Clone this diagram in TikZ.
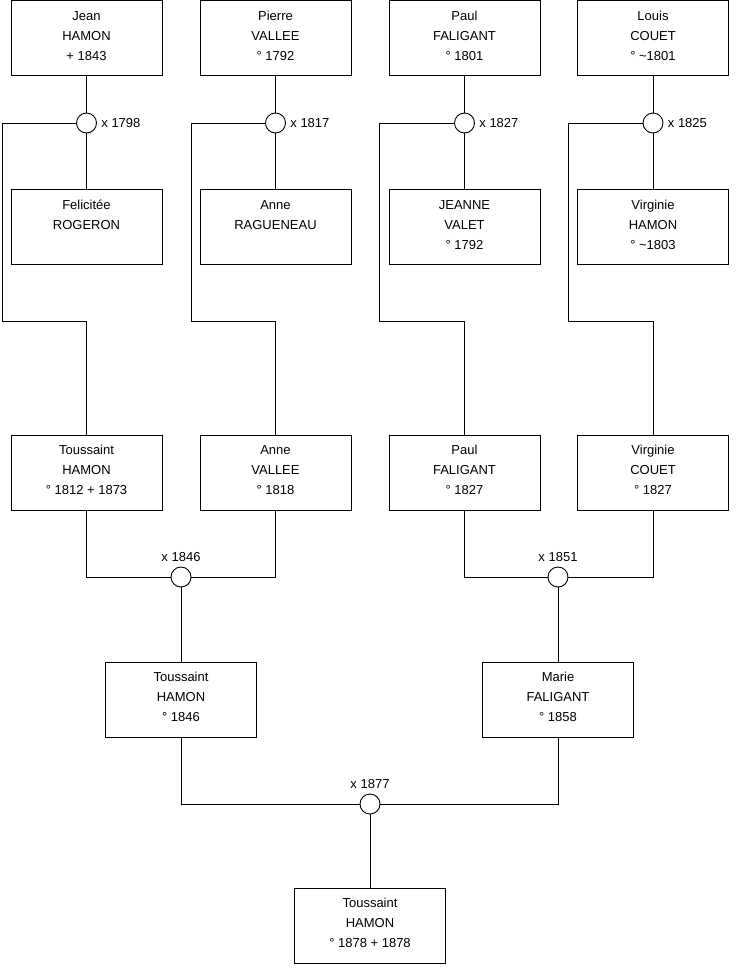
\documentclass[tikz,border=0pt]{standalone}
\usepackage{fontspec}
\setmainfont{Liberation Sans}
\usepackage{tikz}

% a person card: box of fixed size, text hung from the top
\newcommand{\card}[1]{\parbox[c][75pt][t]{151pt}{\centering\rule{0pt}{19.5pt}#1\par}}

\begin{document}
\begin{tikzpicture}[x=1pt, y=-1pt, line width=0.9pt,
  every node/.style={font=\fontsize{13}{20}\selectfont},
  person/.style={draw, rectangle, inner sep=0pt},
  wedding/.style={draw, circle, fill=white, minimum size=20pt, inner sep=0pt},
  datelbl/.style={inner sep=0pt}]
  \useasboundingbox (0,0) rectangle (740,975);
  % first generation
  \node[person] (jean)    at (86.5,38)  {\card{Jean\\HAMON\\+ 1843}};
  \node[person] (pierre)  at (275.5,38) {\card{Pierre\\VALLEE\\° 1792}};
  \node[person] (paulA)   at (464.5,38) {\card{Paul\\FALIGANT\\° 1801}};
  \node[person] (louis)   at (653,38)   {\card{Louis\\COUET\\° \textasciitilde1801}};
  \node[person] (felicitee) at (86.5,227)  {\card{Felicitée\\ROGERON}};
  \node[person] (anneR)     at (275.5,227) {\card{Anne\\RAGUENEAU}};
  \node[person] (jeanne)    at (464.5,227) {\card{JEANNE\\VALET\\° 1792}};
  \node[person] (virginieH) at (653,227)   {\card{Virginie\\HAMON\\° \textasciitilde1803}};
  % their weddings
  \node[wedding] (m1798) at (86.5,123)  {};
  \node[wedding] (m1817) at (275.5,123) {};
  \node[wedding] (m1827) at (464.5,123) {};
  \node[wedding] (m1825) at (653,123)   {};
  \foreach \m in {1798,1817,1827,1825}
    \node[datelbl, anchor=west] (d\m) at ([xshift=4pt]m\m.east) {x \m};
  % second generation
  \node[person] (toussaintA) at (86.5,472.5)  {\card{Toussaint\\HAMON\\° 1812 + 1873}};
  \node[person] (anneV)      at (275.5,472.5) {\card{Anne\\VALLEE\\° 1818}};
  \node[person] (paulB)      at (464.5,472.5) {\card{Paul\\FALIGANT\\° 1827}};
  \node[person] (virginieC)  at (653,472.5)   {\card{Virginie\\COUET\\° 1827}};
  \node[wedding] (m1846) at (181,577) {};
  \node[wedding] (m1851) at (558,577) {};
  % third and fourth generation
  \node[person] (toussaintB) at (181,699.5) {\card{Toussaint\\HAMON\\° 1846}};
  \node[person] (marie)      at (558,699.5) {\card{Marie\\FALIGANT\\° 1858}};
  \node[wedding] (m1877) at (370,804) {};
  \node[person] (toussaintC) at (370,925.5) {\card{Toussaint\\HAMON\\° 1878 + 1878}};
  \foreach \m in {1846,1851,1877}
    \node[datelbl, anchor=south] (d\m) at ([yshift=4pt]m\m.north) {x \m};
  % bends of the long brackets
  \coordinate (b1) at (2,321);
  \coordinate (b2) at (191,321);
  \coordinate (b3) at (379.5,321);
  \coordinate (b4) at (568.5,321);
  % couples and children
  \foreach \h/\w/\m/\b/\c in {jean/felicitee/m1798/b1/toussaintA,
      pierre/anneR/m1817/b2/anneV, paulA/jeanne/m1827/b3/paulB,
      louis/virginieH/m1825/b4/virginieC} {
    \draw (\h) -- (\m) -- (\w);
    \draw (\m.west) -- (\m -| \b) -- (\b) -| (\c);
  }
  \draw (toussaintA) |- (m1846) -| (anneV);
  \draw (m1846) -- (toussaintB);
  \draw (paulB) |- (m1851) -| (virginieC);
  \draw (m1851) -- (marie);
  \draw (toussaintB) |- (m1877) -| (marie);
  \draw (m1877) -- (toussaintC);
\end{tikzpicture}
\end{document}
